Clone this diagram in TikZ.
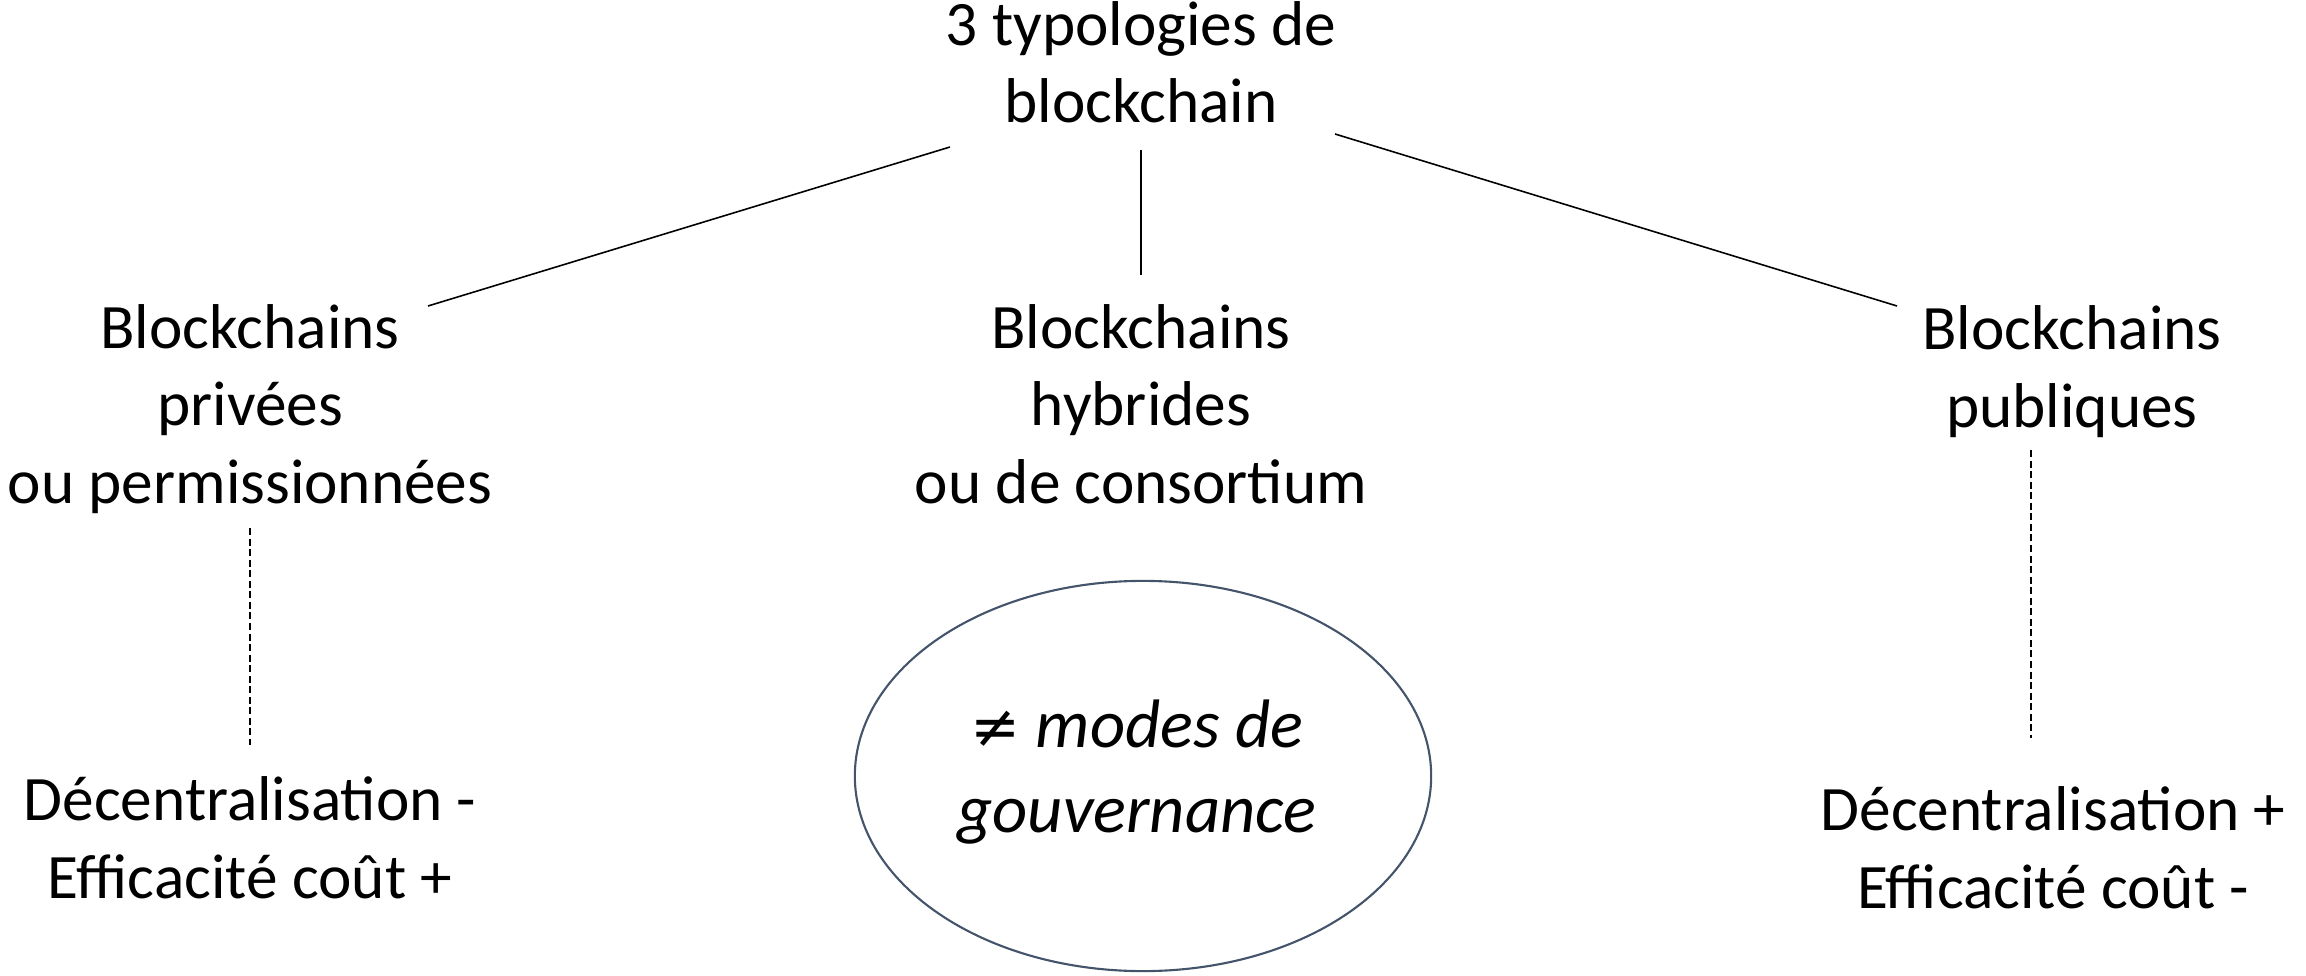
\documentclass[tikz,border=0pt]{standalone}
\usepackage{fontspec}
\setmainfont{Carlito}
\newfontfamily\symfont{DejaVu Sans}
\usetikzlibrary{shapes.geometric}
\definecolor{ellcol}{HTML}{44546A}
\begin{document}
\begin{tikzpicture}[x=0.01cm,y=-0.01cm,
  txt/.style={align=center,anchor=base,inner sep=0pt,font=\fontsize{18pt}{22pt}\selectfont},
  itxt/.style={txt,font=\fontsize{19.5pt}{24pt}\selectfont\itshape},
  link/.style={line width=0.45pt,black},
  dashlink/.style={line width=0.6pt,black,dash pattern=on 2pt off 1pt}]
\useasboundingbox (0,0) rectangle (2306,976);
\node[txt] (title) at (1141,123) {3 typologies de\\blockchain};
\node[txt] (priv) at (250,503) {Blockchains\\privées\\ou permissionnées};
\node[txt] (hyb) at (1141,503) {Blockchains\\hybrides\\ou de consortium};
\node[txt] (pub) at (2072,427) {Blockchains\\publiques};
\node[txt] (privres) at (250,898) {Décentralisation -\\Efficacité coût +};
\node[txt] (pubres) at (2053,908) {Décentralisation +\\Efficacité coût -};
\node[draw=ellcol,line width=0.6pt,ellipse,minimum width=5.76cm,minimum height=3.9cm,inner sep=0pt] (gov) at (1143,776) {};
\node[itxt] (govtxt) at (1137,832) {{\symfont\fontsize{17pt}{24pt}\selectfont\itshape ≠} modes de\\gouvernance};
\coordinate (tL) at (950,147);
\coordinate (tM) at (1141,150);
\coordinate (tR) at (1335,134);
\coordinate (pL) at (428,306);
\coordinate (hM) at (1141,275);
\coordinate (rR) at (1897,306);
\coordinate (pD1) at (250,528);
\coordinate (pD2) at (250,745);
\coordinate (rD1) at (2031,450);
\coordinate (rD2) at (2031,738);
\draw[link] (tL) -- (pL);
\draw[link] (tM) -- (hM);
\draw[link] (tR) -- (rR);
\draw[dashlink] (pD1) -- (pD2);
\draw[dashlink] (rD1) -- (rD2);
\end{tikzpicture}
\end{document}
